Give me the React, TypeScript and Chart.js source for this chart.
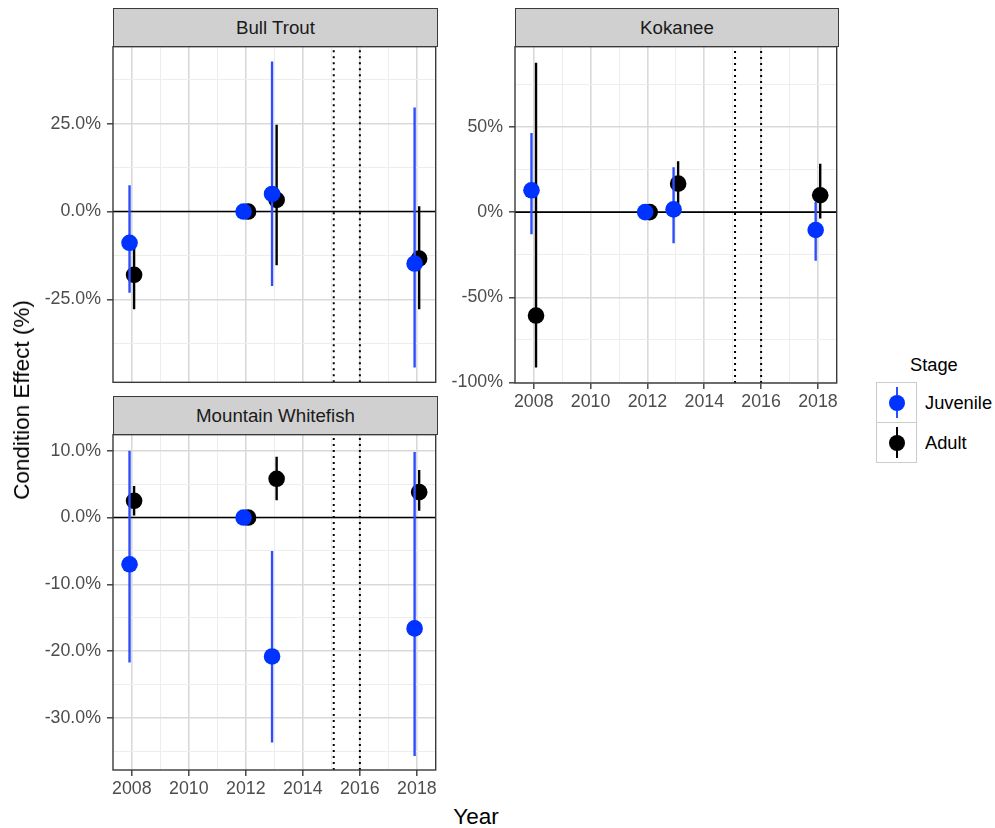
import React, { useEffect, useRef } from "react";
import { Chart, registerables } from "chart.js";

Chart.register(...registerables);

const FONT = "'Liberation Sans', Arial, Helvetica, sans-serif";

// ---------------- data ----------------
const stageNames = ["Juvenile", "Adult"];
const years = [2008, 2012, 2013, 2018];
const xTickYears = [2008, 2010, 2012, 2014, 2016, 2018];
const xTickLabels = ["2008", "2010", "2012", "2014", "2016", "2018"];
const referenceLines = [2015.083, 2016];

const bullTroutJuvenile = [-8.9, 0, 5.0, -14.8];
const bullTroutJuvenileLow = [-23.1, 0, -21.2, -44.4];
const bullTroutJuvenileHigh = [7.5, 0, 42.7, 29.6];
const bullTroutAdult = [-18.0, 0, 3.3, -13.4];
const bullTroutAdultLow = [-27.8, 0, -15.3, -27.8];
const bullTroutAdultHigh = [-9.5, 0, 24.7, 1.5];
const bullTroutYTicks = [-25, 0, 25];
const bullTroutYLabels = ["-25.0%", "0.0%", "25.0%"];

const kokaneeJuvenile = [12.8, 0, 1.6, -10.5];
const kokaneeJuvenileLow = [-13.0, 0, -18.3, -28.6];
const kokaneeJuvenileHigh = [46.5, 0, 26.4, 6.0];
const kokaneeAdult = [-60.7, 0, 16.7, 9.9];
const kokaneeAdultLow = [-91.2, 0, 5.0, -3.7];
const kokaneeAdultHigh = [87.7, 0, 29.8, 28.4];
const kokaneeYTicks = [-100, -50, 0, 50];
const kokaneeYLabels = ["-100%", "-50%", "0%", "50%"];

const whitefishJuvenile = [-7.0, 0, -20.8, -16.6];
const whitefishJuvenileLow = [-21.7, 0, -33.7, -35.7];
const whitefishJuvenileHigh = [10.0, 0, -5.0, 9.8];
const whitefishAdult = [2.5, 0, 5.8, 3.8];
const whitefishAdultLow = [0.3, 0, 2.6, 1.0];
const whitefishAdultHigh = [4.7, 0, 9.1, 7.1];
const whitefishYTicks = [-30, -20, -10, 0, 10];
const whitefishYLabels = ["-30.0%", "-20.0%", "-10.0%", "0.0%", "10.0%"];

// ---------------- styling ----------------
const X_MIN = 2007.34;
const X_MAX = 2018.66;
const DODGE = 0.08;
const JUV_POINT = "#0033FF";
const JUV_LINE = "#2D4DFF";
const ADULT = "#000000";
const GRID_MAJOR = "#D9D9D9";
const GRID_MINOR = "#EDEDED";
const AXIS_COL = "#3A3A3A";
const TICK_TEXT = "#4D4D4D";
const POINT_R = 8.3;
const TICK_FONT = 17.8;
const STRIP_FONT = 18.7;
const LEGEND_FONT = 18.3;
const TITLE_FONT = 22.5;

type Area = { left: number; top: number; right: number; bottom: number };
type PanelSpec = {
  name: string;
  area: Area;
  yMin: number;
  yMax: number;
  yTicks: number[];
  yLabels: string[];
  showX: boolean;
  juv: number[];
  juvLow: number[];
  juvHigh: number[];
  adult: number[];
  adultLow: number[];
  adultHigh: number[];
};

const panels: PanelSpec[] = [
  {
    name: "Bull Trout",
    area: { left: 113, top: 46, right: 438, bottom: 383 },
    yMin: -48.6,
    yMax: 46.9,
    yTicks: bullTroutYTicks,
    yLabels: bullTroutYLabels,
    showX: false,
    juv: bullTroutJuvenile,
    juvLow: bullTroutJuvenileLow,
    juvHigh: bullTroutJuvenileHigh,
    adult: bullTroutAdult,
    adultLow: bullTroutAdultLow,
    adultHigh: bullTroutAdultHigh,
  },
  {
    name: "Kokanee",
    area: { left: 515, top: 46, right: 839, bottom: 383 },
    yMin: -100.3,
    yMax: 97.1,
    yTicks: kokaneeYTicks,
    yLabels: kokaneeYLabels,
    showX: true,
    juv: kokaneeJuvenile,
    juvLow: kokaneeJuvenileLow,
    juvHigh: kokaneeJuvenileHigh,
    adult: kokaneeAdult,
    adultLow: kokaneeAdultLow,
    adultHigh: kokaneeAdultHigh,
  },
  {
    name: "Mountain Whitefish",
    area: { left: 113, top: 434, right: 438, bottom: 770 },
    yMin: -37.8,
    yMax: 12.4,
    yTicks: whitefishYTicks,
    yLabels: whitefishYLabels,
    showX: true,
    juv: whitefishJuvenile,
    juvLow: whitefishJuvenileLow,
    juvHigh: whitefishJuvenileHigh,
    adult: whitefishAdult,
    adultLow: whitefishAdultLow,
    adultHigh: whitefishAdultHigh,
  },
];

const X_AXIS_H = 30;
const Y_AXIS_W = 80;
const EDGE_PAD = 16;

function canvasBox(p: PanelSpec) {
  const left = p.area.left - Y_AXIS_W;
  const top = p.area.top - EDGE_PAD;
  const right = p.area.right + 6;
  const bottom = p.area.bottom + (p.showX ? X_AXIS_H + 2 : EDGE_PAD);
  return { left, top, width: right - left, height: bottom - top };
}

const borderPlugin = {
  id: "panelBorder",
  afterDatasetsDraw(chart: any) {
    const a = chart.chartArea;
    const ctx = chart.ctx;
    ctx.save();
    ctx.strokeStyle = AXIS_COL;
    ctx.lineWidth = 1.4;
    ctx.strokeRect(a.left, a.top, a.right - a.left, a.bottom - a.top);
    ctx.restore();
  },
};

function minorTicks(majors: number[], min: number, max: number) {
  const step = majors[1] - majors[0];
  const out: number[] = [];
  const first = majors[0] - step / 2;
  for (let v = first; v <= majors[majors.length - 1] + step / 2 + 1e-9; v += step) {
    if (v >= min && v <= max) out.push(v);
  }
  return out;
}

function makeConfig(p: PanelSpec) {
  const box = canvasBox(p);
  const jx = years.map((y) => y - DODGE);
  const ax = years.map((y) => y + DODGE);
  const bars = (xs: number[], lo: number[], hi: number[]) =>
    xs.flatMap((x, i) => [
      { x, y: lo[i] },
      { x, y: hi[i] },
      { x, y: null },
    ]);
  const pts = (xs: number[], v: number[]) => xs.map((x, i) => ({ x, y: v[i] }));

  const yMinor = minorTicks(p.yTicks, p.yMin, p.yMax);
  const yAll = [...p.yTicks, ...yMinor].sort((a, b) => a - b);
  const xMinor = minorTicks(xTickYears, X_MIN, X_MAX);
  const xAll = [...xTickYears, ...xMinor].sort((a, b) => a - b);

  const isMajorX = (v: number) => xTickYears.some((t) => Math.abs(t - v) < 1e-6);
  const isMajorY = (v: number) => p.yTicks.some((t) => Math.abs(t - v) < 1e-6);

  const refData: any[] = [];
  referenceLines.forEach((r, i) => {
    if (i > 0) refData.push({ x: r, y: null });
    refData.push({ x: r, y: p.yMin }, { x: r, y: p.yMax });
  });

  const lineBase = { type: "line", pointRadius: 0, spanGaps: false, fill: false, tension: 0 };

  const datasets: any[] = [
    {
      type: "scatter",
      label: stageNames[0],
      data: pts(jx, p.juv),
      pointRadius: POINT_R,
      pointBackgroundColor: JUV_POINT,
      pointBorderWidth: 0,
      backgroundColor: JUV_POINT,
    },
    { ...lineBase, label: stageNames[0] + " CI", data: bars(jx, p.juvLow, p.juvHigh), borderColor: JUV_LINE, borderWidth: 2.4 },
    {
      type: "scatter",
      label: stageNames[1],
      data: pts(ax, p.adult),
      pointRadius: POINT_R,
      pointBackgroundColor: ADULT,
      pointBorderWidth: 0,
      backgroundColor: ADULT,
    },
    { ...lineBase, label: stageNames[1] + " CI", data: bars(ax, p.adultLow, p.adultHigh), borderColor: ADULT, borderWidth: 2.4 },
    { ...lineBase, label: "zero", data: [{ x: X_MIN, y: 0 }, { x: X_MAX, y: 0 }], borderColor: "#000000", borderWidth: 1.7 },
    { ...lineBase, label: "ref", data: refData, borderColor: "#000000", borderWidth: 2, borderDash: [2, 4] },
  ];

  return {
    type: "scatter",
    data: { datasets },
    plugins: [borderPlugin],
    options: {
      animation: false,
      responsive: false,
      devicePixelRatio: 1,
      events: [],
      layout: {
        padding: {
          left: 0,
          top: p.area.top - box.top,
          right: box.left + box.width - p.area.right,
          bottom: box.top + box.height - p.area.bottom - (p.showX ? X_AXIS_H : 0),
        },
      },
      plugins: { legend: { display: false }, tooltip: { enabled: false }, title: { display: false } },
      scales: {
        x: {
          type: "linear",
          min: X_MIN,
          max: X_MAX,
          afterBuildTicks: (s: any) => {
            s.ticks = xAll.map((v) => ({ value: v }));
          },
          afterFit: (s: any) => {
            s.height = p.showX ? X_AXIS_H : 0;
          },
          border: { display: false },
          grid: {
            color: (c: any) => (c.tick && isMajorX(c.tick.value) ? GRID_MAJOR : GRID_MINOR),
            lineWidth: (c: any) => (c.tick && isMajorX(c.tick.value) ? 1.6 : 1),
            tickColor: (c: any) => (c.tick && isMajorX(c.tick.value) ? AXIS_COL : "rgba(0,0,0,0)"),
            tickWidth: 1.4,
            tickLength: 6,
            drawTicks: p.showX,
          },
          ticks: {
            display: p.showX,
            autoSkip: false,
            maxRotation: 0,
            padding: 2,
            color: TICK_TEXT,
            font: { family: FONT, size: TICK_FONT },
            callback: (v: any) => {
              const i = xTickYears.findIndex((t) => Math.abs(t - v) < 1e-6);
              return i >= 0 ? xTickLabels[i] : "";
            },
          },
        },
        y: {
          type: "linear",
          min: p.yMin,
          max: p.yMax,
          afterBuildTicks: (s: any) => {
            s.ticks = yAll.map((v) => ({ value: v }));
          },
          afterFit: (s: any) => {
            s.width = Y_AXIS_W;
          },
          border: { display: false },
          grid: {
            color: (c: any) => (c.tick && isMajorY(c.tick.value) ? GRID_MAJOR : GRID_MINOR),
            lineWidth: (c: any) => (c.tick && isMajorY(c.tick.value) ? 1.6 : 1),
            tickColor: (c: any) => (c.tick && isMajorY(c.tick.value) ? AXIS_COL : "rgba(0,0,0,0)"),
            tickWidth: 1.4,
            tickLength: 6,
            drawTicks: true,
          },
          ticks: {
            autoSkip: false,
            padding: 6,
            color: TICK_TEXT,
            font: { family: FONT, size: TICK_FONT },
            callback: (v: any) => {
              const i = p.yTicks.findIndex((t) => Math.abs(t - v) < 1e-6);
              return i >= 0 ? p.yLabels[i] : "";
            },
          },
        },
      },
    },
  };
}

function Panel({ spec }: { spec: PanelSpec }) {
  const ref = useRef<HTMLCanvasElement>(null);
  const box = canvasBox(spec);
  useEffect(() => {
    const chart = new Chart(ref.current as HTMLCanvasElement, makeConfig(spec) as any);
    return () => chart.destroy();
  }, []);
  return (
    <canvas
      ref={ref}
      width={box.width}
      height={box.height}
      style={{ position: "absolute", left: box.left, top: box.top, width: box.width, height: box.height }}
    />
  );
}

function Strip({ spec }: { spec: PanelSpec }) {
  const a = spec.area;
  return (
    <div
      style={{
        position: "absolute",
        left: a.left,
        top: a.top - 38,
        width: a.right - a.left,
        height: 39,
        boxSizing: "border-box",
        border: "1.4px solid #3a3a3a",
        background: "#D0D0D0",
        color: "#1A1A1A",
        fontFamily: FONT,
        fontSize: STRIP_FONT,
        display: "flex",
        alignItems: "center",
        justifyContent: "center",
      }}
    >
      {spec.name}
    </div>
  );
}

function LegendKey({ top, color, lineColor }: { top: number; color: string; lineColor: string }) {
  return (
    <div
      style={{
        position: "absolute",
        left: 876,
        top,
        width: 41,
        height: 41,
        boxSizing: "border-box",
        border: "1px solid #CCCCCC",
        background: "#FFFFFF",
      }}
    >
      <div style={{ position: "absolute", left: 18.8, top: 4, width: 2.4, height: 31, background: lineColor }} />
      <div
        style={{
          position: "absolute",
          left: 20 - 8,
          top: 19.5 - 8,
          width: 16,
          height: 16,
          borderRadius: "50%",
          background: color,
        }}
      />
    </div>
  );
}

export default function App() {
  return (
    <div style={{ position: "absolute", left: 0, top: 0, width: 995, height: 828, background: "#FFFFFF", overflow: "hidden" }}>
      {panels.map((p) => (
        <Panel key={p.name} spec={p} />
      ))}
      {panels.map((p) => (
        <Strip key={p.name + "s"} spec={p} />
      ))}
      <div
        style={{
          position: "absolute",
          left: 22,
          top: 400,
          transform: "translate(-50%, -50%) rotate(-90deg)",
          whiteSpace: "nowrap",
          fontFamily: FONT,
          fontSize: TITLE_FONT,
          color: "#000",
        }}
      >
        Condition Effect (%)
      </div>
      <div
        style={{
          position: "absolute",
          left: 476,
          top: 817,
          transform: "translate(-50%, -50%)",
          whiteSpace: "nowrap",
          fontFamily: FONT,
          fontSize: TITLE_FONT,
          color: "#000",
        }}
      >
        Year
      </div>
      <div
        style={{
          position: "absolute",
          left: 910,
          top: 365,
          transform: "translateY(-50%)",
          fontFamily: FONT,
          fontSize: LEGEND_FONT,
          color: "#000",
        }}
      >
        Stage
      </div>
      <LegendKey top={382} color={JUV_POINT} lineColor={JUV_LINE} />
      <LegendKey top={422} color={ADULT} lineColor={ADULT} />
      <div style={{ position: "absolute", left: 925, top: 403, transform: "translateY(-50%)", fontFamily: FONT, fontSize: LEGEND_FONT }}>
        {stageNames[0]}
      </div>
      <div style={{ position: "absolute", left: 925, top: 443, transform: "translateY(-50%)", fontFamily: FONT, fontSize: LEGEND_FONT }}>
        {stageNames[1]}
      </div>
    </div>
  );
}
